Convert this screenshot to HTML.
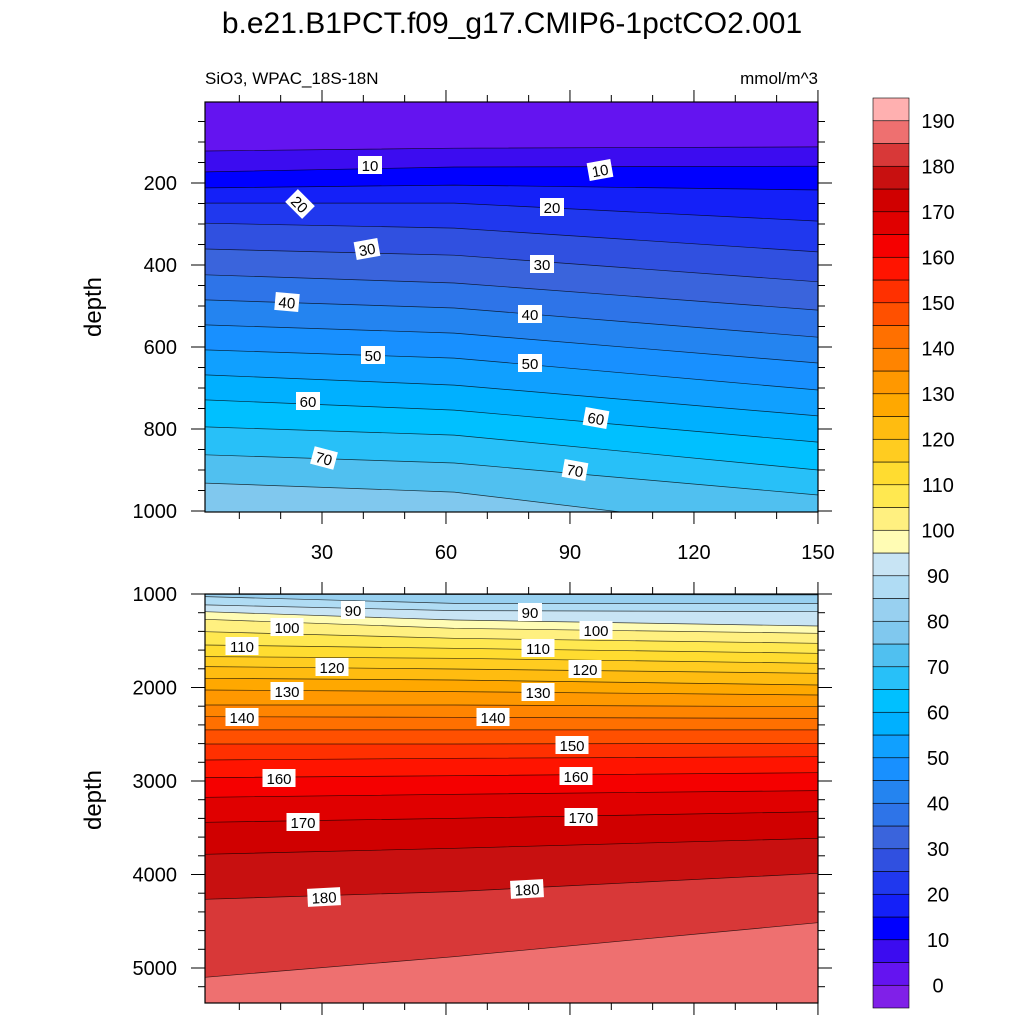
<!DOCTYPE html>
<html><head><meta charset="utf-8"><style>
html,body{margin:0;padding:0;background:#fff;width:1024px;height:1024px;overflow:hidden}
svg{display:block;font-family:"Liberation Sans",sans-serif}
</style></head><body>
<svg id="chart" width="1024" height="1024" viewBox="0 0 1024 1024" xmlns="http://www.w3.org/2000/svg">
<defs>
<clipPath id="clipTop"><rect x="205" y="102" width="613" height="410"/></clipPath>
<clipPath id="clipBot"><rect x="205" y="594" width="613" height="409"/></clipPath>
</defs>
<text x="512" y="33" text-anchor="middle" font-size="30">b.e21.B1PCT.f09_g17.CMIP6-1pctCO2.001</text>
<text x="205" y="84" font-size="17">SiO3, WPAC_18S-18N</text>
<text x="818" y="84" text-anchor="end" font-size="17">mmol/m^3</text>
<text transform="translate(101,307) rotate(-90)" text-anchor="middle" font-size="24">depth</text>
<text transform="translate(101,800) rotate(-90)" text-anchor="middle" font-size="24">depth</text>
<g id="topFill" clip-path="url(#clipTop)"></g>
<g id="botFill" clip-path="url(#clipBot)"></g>
<g id="axes"></g>
<g id="labels"></g>
<g id="cbar"></g>
</svg>
<script>
const colors = ["#8020e8","#6414f0","#3c0cf0","#0000ff","#1420f8","#2038ee","#3050e0","#3a64dc","#2e74e8","#2484f0","#1890ff","#10a0ff","#00b0ff","#00c0ff","#28c0f8","#50c0f0","#80c8ee","#98d0f0","#b0dcf4","#c8e4f4","#fffcb4","#fff080","#ffe850","#ffdc30","#ffcc20","#ffbc10","#ffa800","#ff9800","#ff8400","#ff7000","#ff5000","#ff3000","#ff1400","#f50000","#e00000","#d00000","#c81010","#d83838","#ee7070","#ffb0b0"];
const levels = [5,10,15,20,25,30,35,40,45,50,55,60,65,70,75,80,85,90,95,100,105,110,115,120,125,130,135,140,145,150,155,160,165,170,175,180,185];
const xPts = [1.7, 62, 150];
const depthLeft  = [122,173,212,249,298,361,424,485,546,607,668,729,795,863,932,1003,1028,1117,1189,1271,1403,1545,1670,1777,1902,2027,2187,2312,2454,2604,2775,2964,3174,3442,3784,4265,5099];
const depthMid   = [115,161,205,249,310,376,444,505,566,627,693,754,815,883,954,1005,1100,1178,1278,1367,1474,1581,1688,1802,1920,2044,2187,2319,2454,2604,2757,2943,3142,3399,3720,4183,4879];
const depthRight = [112,159,217,293,368,441,510,576,639,705,768,832,900,961,1060,1010,1100,1189,1342,1420,1527,1634,1741,1848,1973,2080,2205,2330,2454,2597,2740,2911,3103,3328,3613,3987,4515];
const cbarLabels = [0,10,20,30,40,50,60,70,80,90,100,110,120,130,140,150,160,170,180,190];
const xTicks = [30,60,90,120,150];
const topYTicks = [200,400,600,800,1000];
const botYTicks = [1000,2000,3000,4000,5000];

const NS="http://www.w3.org/2000/svg";
const xs = x => 198 + x*4.133;
const ysTop = d => 101 + d*0.41;
const ysBot = d => 594 + (d-1000)*0.0935;
function mk(tag, attrs, parent){const e=document.createElementNS(NS,tag);for(const k in attrs)e.setAttribute(k,attrs[k]);parent.appendChild(e);return e;}

function drawPanel(g, ys, yBottom){
  const bg = mk('rect',{x:205,y:ys===ysTop?102:594,width:613,height:411,fill:colors[1]},g);
  
  
  levels.forEach((lev,i)=>{
    const pts=[[xPts[0],depthLeft[i]],[xPts[1],depthMid[i]],[xPts[2],depthRight[i]]].map(p=>[xs(p[0]),ys(p[1])]);
    const line=pts.map(p=>p[0].toFixed(1)+','+p[1].toFixed(1)).join(' ');
    const poly=mk('polygon',{points:line+' '+xs(xPts[2]).toFixed(1)+','+yBottom+' '+xs(xPts[0]).toFixed(1)+','+yBottom,fill:colors[lev/5+1]},g);
    
    
    const pl=mk('polyline',{points:line,fill:'none',stroke:'#000','stroke-width':0.7,'stroke-opacity':0.75},g);
    
    
  });
}
drawPanel(document.getElementById('topFill'), ysTop, 520);
drawPanel(document.getElementById('botFill'), ysBot, 1010);

const ax=document.getElementById('axes');
function panelAxes(top,bot,yTicks,ys,minorStep,yMin,yMax,showX){
  const fr=mk('rect',{x:205,y:top,width:613,height:bot-top,fill:'none',stroke:'#000','stroke-width':1.2},ax);
  
  
  for(let x=10;x<=150;x+=10){
    const major=x%30===0, L=major?12:7, px=xs(x);
    mk('line',{x1:px,y1:top,x2:px,y2:top-L,stroke:'#000','stroke-width':1},ax);
    mk('line',{x1:px,y1:bot,x2:px,y2:bot+L,stroke:'#000','stroke-width':1},ax);
  }
  if(showX) xTicks.forEach(x=>{
    const t=mk('text',{x:xs(x),y:559,'text-anchor':'middle','font-size':20},ax);t.textContent=x;
    
    
  });
  for(let d=yMin;d<=yMax;d+=minorStep){
    const py=ys(d); if(py<top-0.5||py>bot+0.5) continue;
    const major=yTicks.includes(d), L=major?14:7;
    mk('line',{x1:205,y1:py,x2:205-L,y2:py,stroke:'#000','stroke-width':1},ax);
    mk('line',{x1:818,y1:py,x2:818+L,y2:py,stroke:'#000','stroke-width':1},ax);
  }
  yTicks.forEach(d=>{
    const t=mk('text',{x:177,y:ys(d)+7,'text-anchor':'end','font-size':20},ax);t.textContent=d;
    
    
  });
}
panelAxes(102,512,topYTicks,ysTop,50,50,1000,true);
panelAxes(594,1003,botYTicks,ysBot,200,1000,5400,false);

const cb=document.getElementById('cbar');
const cbTop=98, cbBot=1008, bh=(cbBot-cbTop)/colors.length;
colors.forEach((c,i)=>{
  const r=mk('rect',{x:873,y:cbBot-(i+1)*bh,width:36,height:bh,fill:c,stroke:'#000','stroke-width':0.6},cb);
  
  
});
cbarLabels.forEach(v=>{
  const y=cbBot-(v/5+1)*bh;
  const t=mk('text',{x:938,y:y+7,'text-anchor':'middle','font-size':20},cb);t.textContent=v;
  
  
});

const labs=[["10",370,165,0],["10",600,170,-10],["20",300,204,45],["20",552,207,0],["30",367,249,-10],["30",542,264,0],["40",287,302,5],["40",530,314,0],["50",373,355,0],["50",530,363,0],["60",308,401,0],["60",596,418,10],["70",324,458,15],["70",575,470,10],
["90",353,610,0],["90",530,612,0],["100",287,627,0],["100",596,630,0],["110",242,646,0],["110",538,648,0],["120",332,667,0],["120",585,669,0],["130",287,691,0],["130",538,692,0],["140",242,717,0],["140",493,717,0],["150",572,745,0],["160",279,778,0],["160",576,776,0],["170",303,822,0],["170",581,817,0],["180",324,897,-3],["180",527,889,-3]];
const lg=document.getElementById('labels');
labs.forEach(l=>{
  const g=mk('g',{transform:`translate(${l[1]},${l[2]}) rotate(${l[3]})`},lg);
  
  
  const w=l[0].length*9+6;
  mk('rect',{x:-w/2,y:-9,width:w,height:18,fill:'#fff'},g);
  const t=mk('text',{x:0,y:6,'text-anchor':'middle','font-size':15},g);t.textContent=l[0];
});
</script>
</body></html>
